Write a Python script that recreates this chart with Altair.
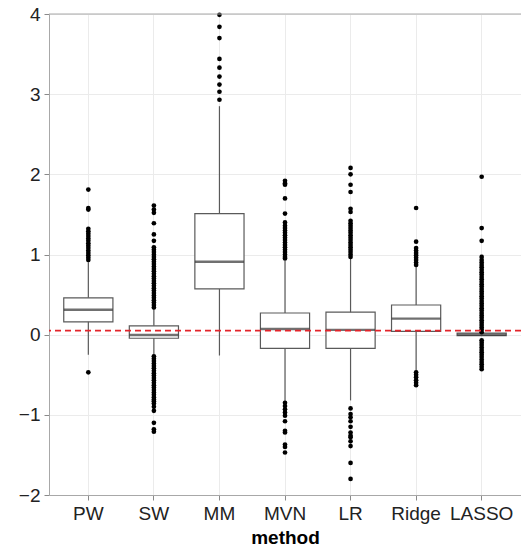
import altair as alt
import pandas as pd

methods = ["PW", "SW", "MM", "MVN", "LR", "Ridge", "LASSO"]
q1 = [0.16, -0.045, 0.57, -0.17, -0.17, 0.04, -0.012]
median = [0.31, -0.005, 0.91, 0.07, 0.06, 0.20, 0.0]
q3 = [0.46, 0.11, 1.51, 0.27, 0.28, 0.37, 0.018]
whisker_lo = [-0.25, -0.25, -0.26, -0.83, -0.82, -0.46, -0.012]
whisker_hi = [0.90, 0.33, 2.85, 0.925, 0.95, 0.86, 0.018]
ref_line = [0.05]
y_domain = [-2, 4]
y_ticks = [-2, -1, 0, 1, 2, 3, 4]

out_pw = [1.81, 1.58, 1.56, 1.32, 1.29, 1.26, 1.23, 1.20, 1.17, 1.14, 1.11,
          1.08, 1.05, 1.02, 0.99, 0.96, 0.93, -0.47]
out_sw = [1.61, 1.56, 1.52, 1.39, 1.25, 1.17, 1.09, 1.06, 1.03, 1.00, 0.97,
          0.94, 0.91, 0.88, 0.85, 0.82, 0.79, 0.76, 0.73, 0.70, 0.67, 0.64,
          0.61, 0.58, 0.55, 0.52, 0.49, 0.46, 0.43, 0.40, 0.37, 0.34,
          -0.27, -0.30, -0.33, -0.36, -0.39, -0.42, -0.45, -0.48, -0.51,
          -0.54, -0.57, -0.60, -0.63, -0.66, -0.69, -0.72, -0.75, -0.78,
          -0.81, -0.83, -0.86, -0.90, -0.95, -1.10, -1.18, -1.21]
out_mm = [3.99, 3.84, 3.70, 3.44, 3.33, 3.22, 3.12, 3.03, 2.93]
out_mvn = [1.92, 1.89, 1.87, 1.70, 1.51, 1.40, 1.36, 1.33, 1.30, 1.27, 1.24,
           1.21, 1.18, 1.15, 1.12, 1.09, 1.06, 1.03, 1.00, 0.97, 0.95,
           -0.85, -0.89, -0.93, -0.97, -1.01, -1.08, -1.20, -1.22, -1.37,
           -1.40, -1.47]
out_lr = [2.08, 2.00, 1.87, 1.78, 1.57, 1.53, 1.42, 1.39, 1.36, 1.33, 1.30,
          1.27, 1.24, 1.21, 1.18, 1.15, 1.12, 1.09, 1.06, 1.03, 1.00, 0.97,
          -0.92, -0.99, -1.03, -1.08, -1.15, -1.22, -1.26, -1.28, -1.33,
          -1.39, -1.60, -1.80]
out_ridge = [1.58, 1.16, 1.08, 1.05, 1.02, 0.99, 0.96, 0.93, 0.90, 0.87,
             -0.47, -0.50, -0.53, -0.57, -0.60, -0.63]
out_lasso = [1.97, 1.33, 1.17, 0.97, 0.93, 0.90, 0.87, 0.84, 0.81, 0.78,
             0.75, 0.72, 0.69, 0.66, 0.63, 0.60, 0.57, 0.54, 0.51, 0.48,
             0.45, 0.42, 0.39, 0.36, 0.33, 0.30, 0.27, 0.24, 0.21, 0.18,
             0.15, 0.12, 0.09, 0.06, 0.03,
             -0.07, -0.10, -0.13, -0.16, -0.19, -0.22, -0.25, -0.28, -0.31,
             -0.34, -0.37, -0.40, -0.43]
outliers = [out_pw, out_sw, out_mm, out_mvn, out_lr, out_ridge, out_lasso]

stats = pd.DataFrame({
    "method": methods, "q1": q1, "median": median, "q3": q3,
    "lo": whisker_lo, "hi": whisker_hi,
})
outs = pd.DataFrame(
    [(m, v) for m, vals in zip(methods, outliers) for v in vals],
    columns=["method", "value"],
)
refdf = pd.DataFrame({"y": ref_line})
topdf = pd.DataFrame({"y": [y_domain[1]]})

FONT = "Liberation Sans"
BORDER = "#A8A8A8"

x_enc = alt.X(
    "method:N", sort=methods,
    scale=alt.Scale(paddingInner=0.25, paddingOuter=0.225),
    axis=alt.Axis(title="method", labelAngle=0, bandPosition=0.5, grid=True,
                  labelFontSize=19, titleFontSize=19, titleFontWeight="bold",
                  labelPadding=4, titlePadding=5, tickSize=5),
)
yscale = alt.Scale(domain=y_domain, nice=False, zero=False)
yaxis = alt.Axis(title=None, values=y_ticks, labelFontSize=19,
                 labelPadding=4, tickSize=5, grid=True)


def Y(field):
    return alt.Y(field, scale=yscale, axis=yaxis)


base = alt.Chart(stats)

whiskers = base.mark_rule(color="#5A5A5A", strokeWidth=1.2).encode(
    x=x_enc, y=Y("lo:Q"), y2="hi:Q")
boxes = base.mark_bar(fill="white", stroke="#5A5A5A", strokeWidth=1.2).encode(
    x=x_enc, y=Y("q1:Q"), y2="q3:Q")
medians = base.mark_tick(color="#333333", size=49, thickness=2.4).encode(
    x=x_enc, y=Y("median:Q"))
points = alt.Chart(outs).mark_circle(color="black", size=22, opacity=1).encode(
    x=x_enc, y=Y("value:Q"))
ref = alt.Chart(refdf).mark_rule(color="#E3242B", strokeDash=[6, 4],
                                 strokeWidth=1.8).encode(y=Y("y:Q"))
top = alt.Chart(topdf).mark_rule(color=BORDER, strokeWidth=1).encode(
    y=Y("y:Q"))

chart = alt.layer(whiskers, boxes, medians, points, ref, top).properties(
    width=472, height=481,
    padding={"left": 49, "top": 14, "right": 0, "bottom": 59},
    autosize=alt.AutoSizeParams(type="none"),
).configure_view(
    strokeWidth=0
).configure_axis(
    domain=True, domainColor=BORDER, domainWidth=1,
    gridColor="#EBEBEB", gridWidth=1, tickColor="#8A8A8A",
    labelColor="#222222", titleColor="#000000", labelFont=FONT, titleFont=FONT,
)

chart.save("out.html", embed_options={"renderer": "svg", "actions": False})
